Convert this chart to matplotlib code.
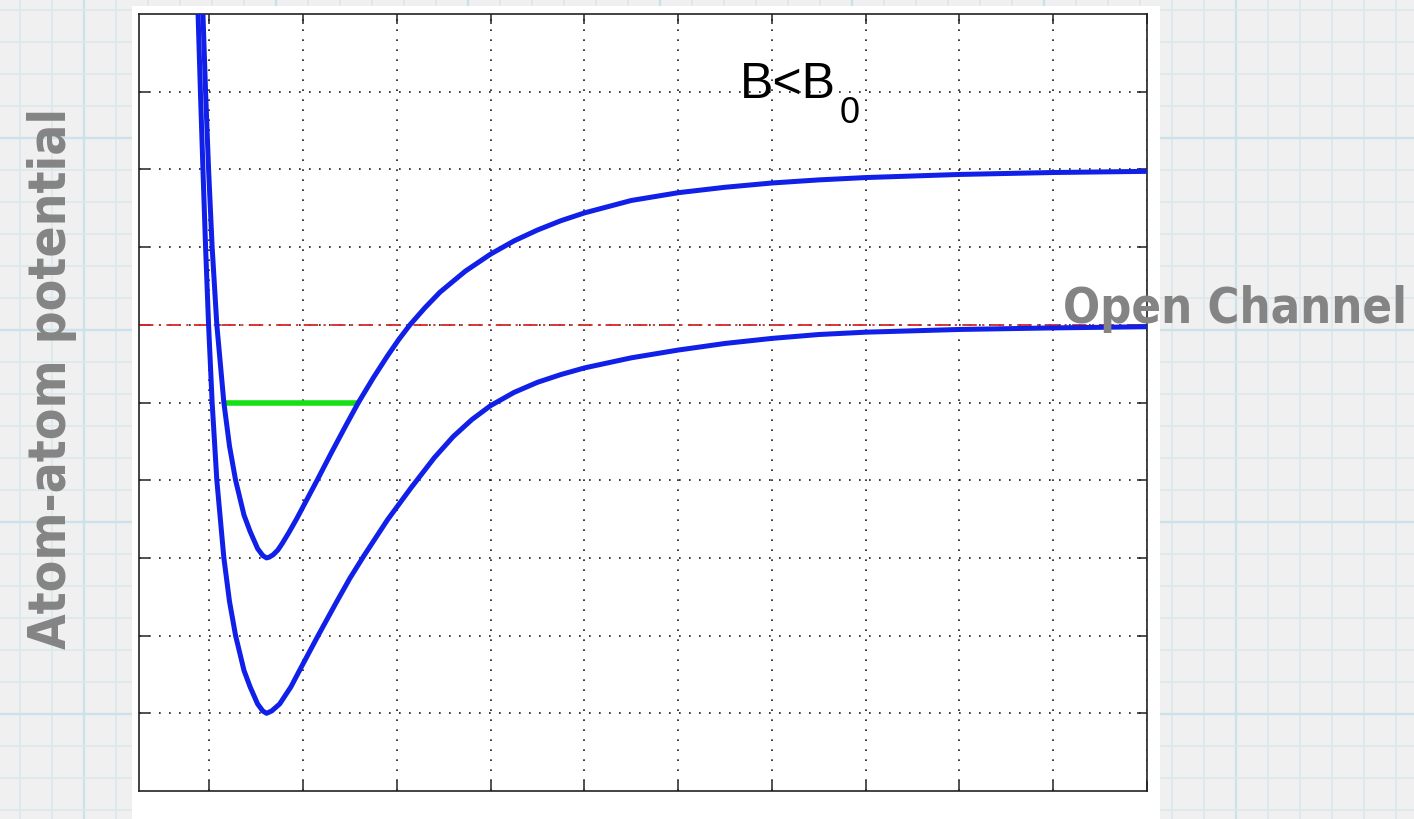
import matplotlib
matplotlib.use("Agg")
import matplotlib.pyplot as plt
from matplotlib.patches import Rectangle
import numpy as np

# closed-channel potential (upper well), read in grid units
r_closed = [-0.078, -0.068, -0.04, -0.008, 0.03, 0.08, 0.155, 0.215, 0.28, 0.37,
            0.435, 0.515, 0.57, 0.61, 0.64, 0.68, 0.73, 0.78, 0.85, 0.93,
            1.04, 1.15, 1.3, 1.45, 1.59, 1.75, 1.9, 2.02, 2.14, 2.3,
            2.46, 2.73, 3.0, 3.25, 3.5, 3.75, 4.0, 4.5, 5.0, 5.5,
            6.0, 6.5, 7.0, 8.0, 9.0, 10.0]
v_closed = [10.4, 10.0, 9.0, 8.0, 7.0, 6.0, 5.0, 4.44, 4.0, 3.55,
            3.34, 3.12, 3.03, 3.0, 3.01, 3.04, 3.1, 3.19, 3.33, 3.5,
            3.75, 4.0, 4.35, 4.69, 5.0, 5.32, 5.6, 5.81, 6.0, 6.22,
            6.42, 6.69, 6.91, 7.08, 7.22, 7.34, 7.44, 7.6, 7.7, 7.77,
            7.825, 7.865, 7.895, 7.935, 7.96, 7.975]

# open-channel potential (lower well)
r_open = [-0.13, -0.12, -0.095, -0.068, -0.04, -0.008, 0.03, 0.08, 0.155, 0.215,
          0.28, 0.37, 0.435, 0.515, 0.57, 0.61, 0.665, 0.75, 0.87, 0.97,
          1.16, 1.36, 1.5, 1.65, 1.9, 2.15, 2.4, 2.6, 2.8, 3.0,
          3.25, 3.5, 3.75, 4.0, 4.5, 5.0, 5.5, 6.0, 6.5, 7.0,
          8.0, 9.0, 10.0]
v_open = [10.4, 10.0, 9.0, 8.0, 7.0, 6.0, 5.0, 4.0, 3.0, 2.44,
          2.0, 1.55, 1.34, 1.12, 1.03, 1.0, 1.03, 1.12, 1.34, 1.57,
          2.0, 2.44, 2.74, 3.03, 3.49, 3.9, 4.29, 4.56, 4.78, 4.96,
          5.13, 5.26, 5.36, 5.445, 5.575, 5.675, 5.76, 5.825, 5.875, 5.905,
          5.94, 5.96, 5.975]

threshold = 6.0                 # open channel threshold
bound_level = 5.0               # bound state in the closed channel
bound_span = [0.175, 1.59]

x_ticks = list(range(0, 11))
y_ticks = list(range(1, 10))

W, H = 1414, 819
fig = plt.figure(figsize=(W / 100, H / 100), dpi=100)
fig.patch.set_facecolor("#f0f0f0")

# graph-paper backdrop, in pixel coordinates
bg = fig.add_axes([0, 0, 1, 1], zorder=0)
bg.set_xlim(0, W)
bg.set_ylim(H, 0)
bg.axis("off")
for k, xp in enumerate(np.arange(19.5, W, 32.0)):
    thick = (k % 6 == 2)
    bg.axvline(xp, color="#cde1ea" if thick else "#d9e8ee", lw=1.7 if thick else 1.1)
for k, yp in enumerate(np.arange(9.7, H, 32.0)):
    thick = (k % 6 == 4)
    bg.axhline(yp, color="#cde1ea" if thick else "#d9e8ee", lw=1.7 if thick else 1.1)
bg.add_patch(Rectangle((132, 6), 1160 - 132, H, facecolor="white", edgecolor="none", zorder=5))

# the plot itself
ax = fig.add_axes([139 / W, 1 - 791 / H, (1147 - 139) / W, (791 - 14) / H], zorder=1)
ax.set_facecolor("white")
ax.set_xlim(-0.75, 10)
ax.set_ylim(0, 10)
ax.set_xticks(x_ticks)
ax.set_yticks(y_ticks)
ax.tick_params(direction="in", length=7, width=1.1, top=True, right=True,
               labelbottom=False, labelleft=False, color="#222222")
for sp in ax.spines.values():
    sp.set_linewidth(1.2)
    sp.set_color("#222222")
ax.grid(True, color="#1a1a1a", lw=1.2, linestyle=(0, (1, 5)))

ax.axhline(threshold, color="#d42828", lw=1.3, linestyle=(0, (8, 3, 1.2, 3)), zorder=2)
ax.plot(bound_span, [bound_level, bound_level], color="#14e014", lw=4, solid_capstyle="butt", zorder=3)
ax.plot(r_closed, v_closed, color="#1020e8", lw=3.6, solid_joinstyle="round", zorder=4)
ax.plot(r_open, v_open, color="#1020e8", lw=3.6, solid_joinstyle="round", zorder=4)

ax.text(5.66, 8.92, "B<B", family="Liberation Sans", fontsize=36, ha="left", va="baseline")
ax.text(6.72, 8.6, "0", family="Liberation Sans", fontsize=26, ha="left", va="baseline")

# slide labels, sized so they span the same length as on the slide
ylab = fig.text(52 / W, 1 - 378 / H, "Atom-atom potential", family="DejaVu Sans",
                fontstretch="condensed", weight="bold", fontsize=40, color="#848484",
                rotation=90, ha="center", va="center")
olab = fig.text(1063 / W, 1 - 323 / H, "Open Channel", family="DejaVu Sans",
                fontstretch="condensed", weight="bold", fontsize=40, color="#848484",
                ha="left", va="baseline", zorder=10)
renderer = fig.canvas.get_renderer()
span = ylab.get_window_extent(renderer).height
ylab.set_fontsize(40 * 540 / span)
span = olab.get_window_extent(renderer).width
olab.set_fontsize(40 * 344 / span)

fig.savefig("out.png", dpi=100, facecolor=fig.get_facecolor())
